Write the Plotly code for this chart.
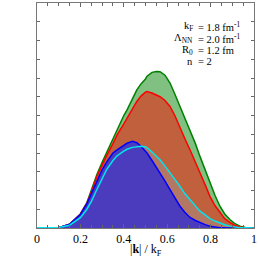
import plotly.graph_objects as go

x = [0, 0.1, 0.15, 0.2, 0.23, 0.25, 0.276, 0.3, 0.32, 0.35, 0.369, 0.4, 0.415, 0.44, 0.46, 0.48,
     0.5, 0.507, 0.53, 0.55, 0.567, 0.59, 0.613, 0.635, 0.659, 0.68, 0.705, 0.73, 0.751, 0.775,
     0.797, 0.82, 0.843, 0.865, 0.889, 0.91, 0.935, 0.96, 1.0]

green = [0, 0.02, 0.2, 0.75, 1.36, 2.0, 2.85, 3.5, 4.0, 4.8, 5.24, 6.0, 6.3, 6.9, 7.37, 7.7,
         7.95, 8.1, 8.3, 8.35, 8.34, 8.15, 7.73, 7.15, 6.48, 5.9, 5.24, 4.5, 3.82, 3.1,
         2.42, 1.75, 1.16, 0.75, 0.45, 0.25, 0.1, 0.03, 0]
red = [0, 0.02, 0.2, 0.75, 1.33, 1.9, 2.75, 3.4, 3.85, 4.5, 4.97, 5.55, 5.88, 6.35, 6.75, 7.05,
       7.25, 7.28, 7.2, 7.1, 7.0, 6.8, 6.48, 6.0, 5.41, 4.8, 4.17, 3.55, 2.95, 2.3,
       1.69, 1.2, 0.82, 0.5, 0.3, 0.15, 0.05, 0.01, 0]
blue = [0, 0.02, 0.2, 0.72, 1.3, 1.8, 2.5, 3.1, 3.5, 4.0, 4.17, 4.4, 4.52, 4.62, 4.55, 4.35,
        4.1, 4.0, 3.6, 3.25, 2.95, 2.5, 2.05, 1.6, 1.16, 0.85, 0.56, 0.4, 0.29, 0.18,
        0.1, 0.05, 0.02, 0.01, 0, 0, 0, 0, 0]
cyan = [0.02, 0.03, 0.15, 0.55, 1.0, 1.4, 2.05, 2.65, 3.1, 3.6, 3.85, 4.1, 4.2, 4.3, 4.35, 4.36,
        4.33, 4.28, 4.05, 3.85, 3.64, 3.3, 2.95, 2.6, 2.22, 1.85, 1.52, 1.2, 0.9, 0.7,
        0.5, 0.37, 0.25, 0.17, 0.1, 0.05, 0.02, 0.01, 0]

xtick_vals = [0, 0.2, 0.4, 0.6, 0.8, 1.0]
xtick_text = ["0", "0.2", "0.4", "0.6", "0.8", "1"]

labels_left = ["k<sub>F</sub>", "Λ<sub>NN</sub>", "R<sub>0</sub>", "n"]
labels_right = ["= 1.8 fm<sup>-1</sup>", "= 2.0 fm<sup>-1</sup>", "= 1.2 fm", "= 2"]

serif = "Liberation Serif"
fig = go.Figure()
fig.add_trace(go.Scatter(x=x, y=green, mode="lines", line=dict(color="#008000", width=1.5),
                         fill="tozeroy", fillcolor="#80c080"))
fig.add_trace(go.Scatter(x=x, y=red, mode="lines", line=dict(color="#ff0000", width=1.5),
                         fill="tozeroy", fillcolor="#c0603c"))
fig.add_trace(go.Scatter(x=x, y=cyan, mode="lines", line=dict(width=0),
                         fill="tozeroy", fillcolor="#b27864"))
fig.add_trace(go.Scatter(x=x, y=blue, mode="lines", line=dict(color="#0000ff", width=1.5),
                         fill="tozeroy", fillcolor="#4a3cbc"))
fig.add_trace(go.Scatter(x=x, y=cyan, mode="lines", line=dict(color="#00e5ee", width=1.5)))

H = 225.5
ys = [27, 39, 51, 62]
for i, yy in enumerate(ys):
    yp = 1 - (yy - 3) / H
    fig.add_annotation(x=0.73, y=yp, xref="paper", yref="paper", text=labels_left[i],
                       showarrow=False, xanchor="right", yanchor="middle",
                       font=dict(family=serif, size=10.5, color="black"))
    fig.add_annotation(x=0.733, y=yp, xref="paper", yref="paper", text=labels_right[i],
                       showarrow=False, xanchor="left", yanchor="middle",
                       font=dict(family=serif, size=10.5, color="black"))

fig.add_annotation(x=0.5, y=-(251 - 228.5) / H, xref="paper", yref="paper",
                   text="|<b>k</b>| / k<sub>F</sub>", showarrow=False, xanchor="center", yanchor="middle",
                   font=dict(family=serif, size=12, color="black"))

fig.update_layout(
    width=258, height=258, margin=dict(l=37, r=4, t=3, b=29.5),
    paper_bgcolor="white", plot_bgcolor="white", showlegend=False,
    font=dict(family=serif, size=12, color="black"),
    xaxis=dict(range=[0, 1], tickmode="array", tickvals=xtick_vals, ticktext=xtick_text, tickangle=0,
               automargin=False, ticks="inside", ticklen=4, tickcolor="#666",
               showline=True, linecolor="#777", linewidth=1, mirror="ticks", showgrid=False, zeroline=False,
               minor=dict(dtick=0.05, tick0=0, ticks="inside", ticklen=3, tickcolor="#666"),
               tickfont=dict(size=12)),
    yaxis=dict(range=[0, 12], dtick=1, ticks="inside", ticklen=3, tickcolor="#666", showticklabels=False,
               automargin=False,
               showline=True, linecolor="#777", linewidth=1, mirror="ticks", showgrid=False, zeroline=False),
)
fig.write_html("out.html", config={"displayModeBar": False},
               post_script="document.body.style.margin='0';document.body.style.overflow='hidden';")
